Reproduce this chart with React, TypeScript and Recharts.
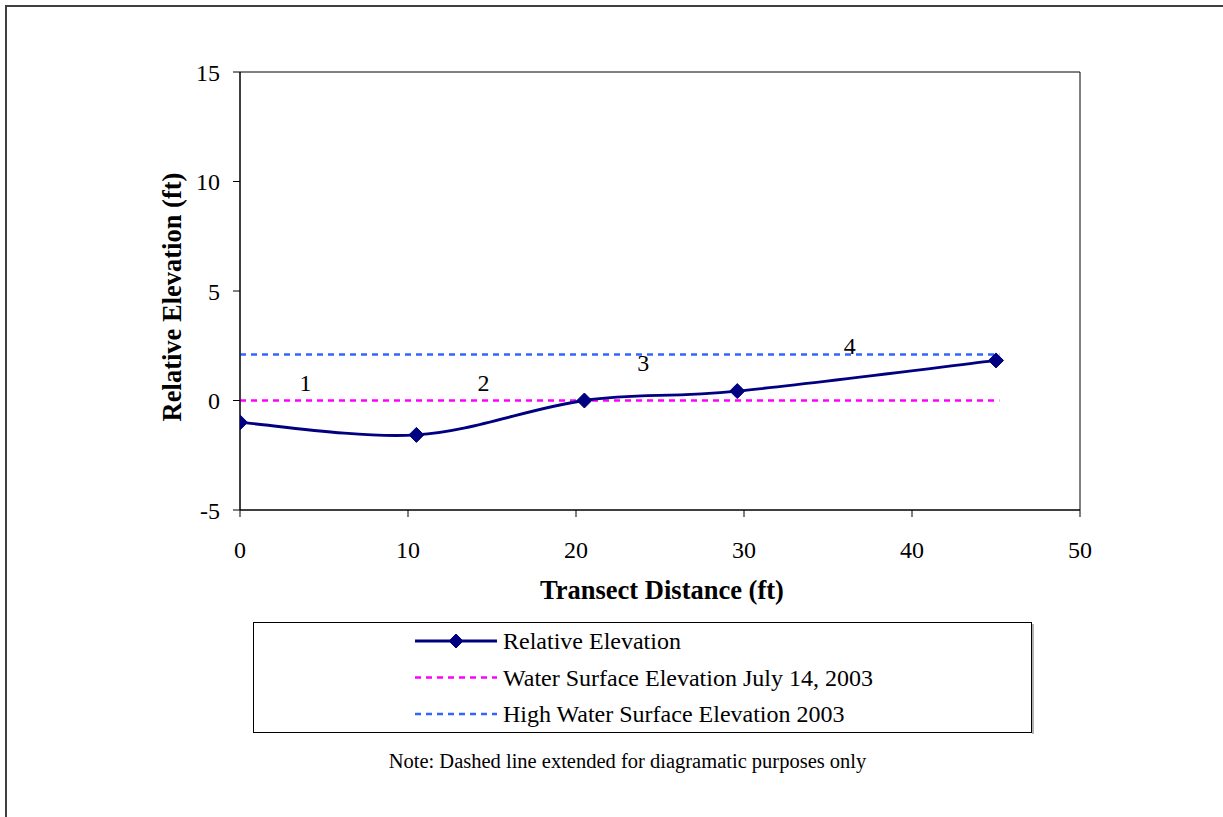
import React from 'react';
import { ComposedChart, Line, XAxis, YAxis, Scatter, ReferenceArea, Legend } from 'recharts';

const FONT = '"Liberation Serif", "Times New Roman", Times, serif';
const NAVY = '#000080';
const MAGENTA = '#FF00FF';
const BLUE = '#3366FF';

// Series data
const distance = [0, 10.5, 20.5, 29.6, 45.0];
const elevation = [-1.0, -1.57, 0.0, 0.43, 1.83];
const waterX = [0, 45.2];
const waterY = [0, 0];
const highX = [0, 45.2];
const highY = [2.1, 2.1];
const sectionNames = ['1', '2', '3', '4'];
const sectionX = [3.9, 14.5, 24.0, 36.3];
const sectionY = [0.78, 0.78, 1.69, 2.5];
const xTicks = [0, 10, 20, 30, 40, 50];
const yTicks = [-5, 0, 5, 10, 15];
const seriesNames = [
  'Relative Elevation',
  'Water Surface Elevation July 14, 2003',
  'High Water Surface Elevation 2003',
];
const xTitle = 'Transect Distance (ft)';
const yTitle = 'Relative Elevation (ft)';
const noteText = 'Note: Dashed line extended for diagramatic purposes only';

const mainData = distance.map((x, i) => ({ x, y: elevation[i] }));
const waterData = waterX.map((x, i) => ({ x, y: waterY[i] }));
const highData = highX.map((x, i) => ({ x, y: highY[i] }));
const sectionData = sectionNames.map((n, i) => ({ x: sectionX[i], y: sectionY[i], n }));

// Excel-like smoothing (cardinal / Catmull-Rom bezier)
const excelSmooth: any = (context: any) => {
  let pts: number[][] = [];
  return {
    areaStart() {},
    areaEnd() {},
    lineStart() {
      pts = [];
    },
    point(x: number, y: number) {
      pts.push([+x, +y]);
    },
    lineEnd() {
      if (!pts.length) return;
      context.moveTo(pts[0][0], pts[0][1]);
      for (let i = 0; i < pts.length - 1; i++) {
        const p0 = pts[Math.max(i - 1, 0)];
        const p1 = pts[i];
        const p2 = pts[i + 1];
        const p3 = pts[Math.min(i + 2, pts.length - 1)];
        context.bezierCurveTo(
          p1[0] + (p2[0] - p0[0]) / 6,
          p1[1] + (p2[1] - p0[1]) / 6,
          p2[0] - (p3[0] - p1[0]) / 6,
          p2[1] - (p3[1] - p1[1]) / 6,
          p2[0],
          p2[1]
        );
      }
    },
  };
};

const diamondPoints = (cx: number, cy: number, r: number) =>
  `${cx},${cy - r} ${cx + r},${cy} ${cx},${cy + r} ${cx - r},${cy}`;

const Diamond = (props: any) => {
  const { cx, cy, index } = props;
  if (cx == null || cy == null) return <g key={`dm-${index}`} />;
  return <polygon key={`dm-${index}`} points={diamondPoints(cx, cy, 7.5)} fill={NAVY} stroke={NAVY} strokeWidth={1} />;
};

const SectionLabel = (props: any) => {
  const { cx, cy, payload } = props;
  return (
    <text x={cx} y={cy} textAnchor="middle" dominantBaseline="central" fontSize={24} fontFamily={FONT} style={{ fontFamily: FONT }} fill="#000">
      {payload.n}
    </text>
  );
};

const XTitle = (props: any) => {
  const vb = props.viewBox || { x: 240, y: 510, width: 840, height: 307 };
  return (
    <text x={vb.x + vb.width / 2 + 2} y={vb.y + 89} textAnchor="middle" fontSize={26.5} fontWeight="bold" fontFamily={FONT} style={{ fontFamily: FONT }} fill="#000">
      {xTitle}
    </text>
  );
};

const YTitle = (props: any) => {
  const vb = props.viewBox || { x: 0, y: 72, width: 240, height: 438 };
  const cx = vb.x + 181;
  const cy = vb.y + vb.height / 2 + 6;
  return (
    <text x={cx} y={cy} transform={`rotate(-90, ${cx}, ${cy})`} textAnchor="middle" fontSize={26.5} fontWeight="bold" fontFamily={FONT} style={{ fontFamily: FONT }} fill="#000">
      {yTitle}
    </text>
  );
};

const legendItems = [
  { name: seriesNames[0], color: NAVY, dash: undefined as string | undefined, marker: true, width: 3 },
  { name: seriesNames[1], color: MAGENTA, dash: '6 5', marker: false, width: 2.5 },
  { name: seriesNames[2], color: BLUE, dash: '6 5', marker: false, width: 2.5 },
];

const LegendBox = () => (
  <svg width={781} height={112} style={{ display: 'block', fontFamily: FONT }}>
    <rect x={0.5} y={0.5} width={778} height={110} fill="#fff" stroke="#000" strokeWidth={1} />
    <line x1={780} y1={2} x2={780} y2={112} stroke="#999" strokeWidth={1.5} />
    {legendItems.map((it, i) => {
      const cy = 19 + i * 36.5;
      return (
        <g key={i}>
          <line x1={162} x2={244} y1={cy} y2={cy} stroke={it.color} strokeWidth={it.width} strokeDasharray={it.dash} />
          {it.marker && <polygon points={diamondPoints(203, cy, 7)} fill={NAVY} stroke={NAVY} />}
          <text x={250} y={cy + 8} fontSize={24} fontFamily={FONT} style={{ fontFamily: FONT }} fill="#000">
            {it.name}
          </text>
        </g>
      );
    })}
  </svg>
);

export default function App() {
  const tickStyle = { fontSize: 24, fontFamily: FONT, fill: '#000', style: { fontFamily: FONT } };
  return (
    <div style={{ position: 'absolute', left: 0, top: 0, width: 1223, height: 817, overflow: 'hidden', background: '#fff', fontFamily: FONT }}>
      <div
        style={{
          position: 'absolute',
          left: 5,
          top: 5,
          width: 1400,
          height: 1000,
          border: '2px solid #404040',
          boxSizing: 'border-box',
        }}
      />
      <div style={{ position: 'absolute', left: 0, top: 0 }}>
        <ComposedChart width={1223} height={817} margin={{ top: 72, right: 143, bottom: 0, left: 0 }} style={{ fontFamily: FONT }}>
          <XAxis
            type="number"
            dataKey="x"
            domain={[0, 50]}
            ticks={xTicks}
            allowDataOverflow
            tickSize={7}
            tickMargin={24}
            height={307}
            stroke="#000"
            tick={tickStyle}
            tickLine={{ stroke: '#000' }}
            axisLine={{ stroke: '#000' }}
            label={{ content: (p: any) => <XTitle {...p} /> }}
          />
          <YAxis
            type="number"
            dataKey="y"
            domain={[-5, 15]}
            ticks={yTicks}
            allowDataOverflow
            tickSize={7}
            tickMargin={13}
            width={240}
            stroke="#000"
            tick={tickStyle}
            tickLine={{ stroke: '#000' }}
            axisLine={{ stroke: '#000' }}
            label={{ content: (p: any) => <YTitle {...p} /> }}
          />
          <ReferenceArea x1={0} x2={50} y1={-5} y2={15} fill="none" stroke="#000" strokeWidth={1} />
          <Line
            data={waterData}
            dataKey="y"
            name={seriesNames[1]}
            type="linear"
            stroke={MAGENTA}
            strokeWidth={2.5}
            strokeDasharray="6 5"
            dot={false}
            activeDot={false}
            isAnimationActive={false}
          />
          <Line
            data={highData}
            dataKey="y"
            name={seriesNames[2]}
            type="linear"
            stroke={BLUE}
            strokeWidth={2.5}
            strokeDasharray="6 5"
            dot={false}
            activeDot={false}
            isAnimationActive={false}
          />
          <Line
            data={mainData}
            dataKey="y"
            name={seriesNames[0]}
            type={excelSmooth}
            stroke={NAVY}
            strokeWidth={2.8}
            dot={(p: any) => <Diamond {...p} key={`dm-${p.index}`} />}
            activeDot={false}
            isAnimationActive={false}
          />
          <Scatter data={sectionData} dataKey="y" legendType="none" shape={(p: any) => <SectionLabel {...p} />} isAnimationActive={false} />
          <Legend
            layout="horizontal"
            verticalAlign="middle"
            align="center"
            wrapperStyle={{ left: 253, top: 622, width: 781, height: 112 }}
            content={() => <LegendBox />}
          />
        </ComposedChart>
      </div>
      <svg style={{ position: 'absolute', left: 0, top: 740 }} width={1223} height={40}>
        <text x={627.5} y={28} textAnchor="middle" fontSize={20.5} fontFamily={FONT} style={{ fontFamily: FONT }} fill="#000">
          {noteText}
        </text>
      </svg>
    </div>
  );
}
